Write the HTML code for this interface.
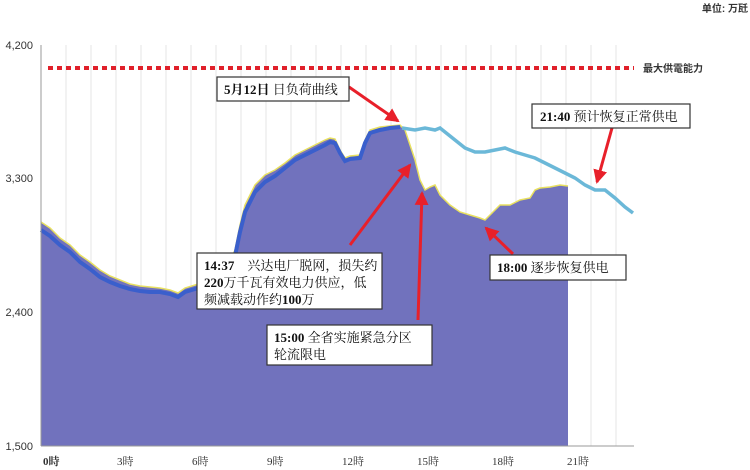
<!DOCTYPE html>
<html><head><meta charset="utf-8"><style>
body{margin:0;background:#fff;}
svg{display:block;font-family:"Liberation Sans","Noto Sans CJK SC",sans-serif;}
.cn{font-family:"Liberation Serif","Noto Serif CJK SC",serif;}
</style></head><body>
<svg width="750" height="470" viewBox="0 0 750 470">
<defs><marker id="ah" markerWidth="8" markerHeight="8" refX="6" refY="4" orient="auto" markerUnits="userSpaceOnUse"><path d="M0,0 L8,4 L0,8 Z" fill="#e8202a"/></marker>
<marker id="ah2" markerWidth="14" markerHeight="14" refX="12" refY="7" orient="auto" markerUnits="userSpaceOnUse"><path d="M0,0 L14,7 L0,14 Z" fill="#e8202a"/></marker></defs>
<text x="748" y="12" font-size="10" font-weight="bold" text-anchor="end" fill="#333">单位: 万瓩</text>
<!-- grid -->
<g stroke="#e6e6e6" stroke-width="1">
<line x1="66" y1="45" x2="66" y2="446"/><line x1="91" y1="45" x2="91" y2="446"/><line x1="116" y1="45" x2="116" y2="446"/><line x1="141" y1="45" x2="141" y2="446"/><line x1="166" y1="45" x2="166" y2="446"/><line x1="191" y1="45" x2="191" y2="446"/><line x1="216" y1="45" x2="216" y2="446"/><line x1="241" y1="45" x2="241" y2="446"/><line x1="266" y1="45" x2="266" y2="446"/><line x1="291" y1="45" x2="291" y2="446"/><line x1="316" y1="45" x2="316" y2="446"/><line x1="341" y1="45" x2="341" y2="446"/><line x1="366" y1="45" x2="366" y2="446"/><line x1="391" y1="45" x2="391" y2="446"/><line x1="416" y1="45" x2="416" y2="446"/><line x1="441" y1="45" x2="441" y2="446"/><line x1="466" y1="45" x2="466" y2="446"/><line x1="491" y1="45" x2="491" y2="446"/><line x1="516" y1="45" x2="516" y2="446"/><line x1="541" y1="45" x2="541" y2="446"/><line x1="566" y1="45" x2="566" y2="446"/><line x1="591" y1="45" x2="591" y2="446"/><line x1="616" y1="45" x2="616" y2="446"/>
</g>
<!-- fill -->
<path d="M41,222 L50,228 L60,238 L70,245 L80,255 L90,262 L100,270 L110,276 L120,280 L130,284 L140,286 L150,287 L160,288 L170,290 L178,293 L185,288 L195,285 L205,282 L215,280 L225,272 L235,250 L240,225 L245,205 L255,185 L265,175 L275,170 L285,163 L295,155 L305,150 L315,145 L325,140 L330,138 L335,139 L340,150 L345,158 L350,156 L360,155 L365,140 L370,130 L380,127 L390,126 L400,125 L405,130 L410,145 L415,160 L420,180 L425,190 L430,187 L435,185 L440,195 L450,205 L460,212 L470,215 L480,218 L485,220 L490,215 L495,210 L500,205 L510,205 L520,200 L530,198 L535,190 L540,188 L550,187 L560,185 L568,186 L568,446 L41,446 Z" fill="#7172bd" stroke="none"/>
<path d="M41,222 L50,228 L60,238 L70,245 L80,255 L90,262 L100,270 L110,276 L120,280 L130,284 L140,286 L150,287 L160,288 L170,290 L178,293 L185,288 L195,285 L205,282 L215,280 L225,272 L235,250 L240,225 L245,205 L255,185 L265,175 L275,170 L285,163 L295,155 L305,150 L315,145 L325,140 L330,138 L335,139 L340,150 L345,158 L350,156 L360,155 L365,140 L370,130 L380,127 L390,126 L400,125 L405,130 L410,145 L415,160 L420,180 L425,190 L430,187 L435,185 L440,195 L450,205 L460,212 L470,215 L480,218 L485,220 L490,215 L495,210 L500,205 L510,205 L520,200 L530,198 L535,190 L540,188 L550,187 L560,185 L568,186" fill="none" stroke="#e8e060" stroke-width="1.5"/>
<path d="M41,230 L50,236 L60,245 L70,252 L80,262 L90,269 L100,277 L110,282 L120,286 L130,289 L140,291 L150,292 L160,292 L170,294 L178,297 L185,292 L195,289 L205,286 L215,283 L225,276 L235,256 L240,232 L245,212 L255,192 L265,182 L275,176 L285,168 L295,160 L305,155 L315,150 L325,145 L330,142 L335,143 L340,153 L345,161 L350,159 L360,158 L365,143 L370,133 L380,130 L390,128 L400,127" fill="none" stroke="#3a5fcc" stroke-width="4"/>
<path d="M402,128 L415,130 L425,128 L435,130 L440,128 L445,132 L455,140 L465,148 L475,152 L485,152 L495,150 L505,148 L515,152 L525,155 L535,158 L545,163 L555,168 L565,173 L575,178 L585,185 L595,190 L605,190 L615,198 L625,207 L633,213" fill="none" stroke="#6bb8d8" stroke-width="3.5"/>
<!-- axes -->
<line x1="41" y1="45" x2="41" y2="446" stroke="#999"/>
<line x1="41" y1="446" x2="634" y2="446" stroke="#999"/>
<g font-size="11" fill="#333" text-anchor="end"><text x="33" y="49">4,200</text><text x="33" y="182">3,300</text><text x="33" y="316">2,400</text><text x="33" y="450">1,500</text></g>
<g font-size="11" fill="#333" class="cn"><text x="43" y="465" font-weight="bold">0時</text><text x="117" y="465">3時</text><text x="192" y="465">6時</text><text x="267" y="465">9時</text><text x="342" y="465">12時</text><text x="417" y="465">15時</text><text x="492" y="465">18時</text><text x="567" y="465">21時</text></g>
<line x1="48" y1="68" x2="634" y2="68" stroke="#e0202a" stroke-width="4" stroke-dasharray="5,4"/>
<text x="643" y="72" font-size="10" font-weight="bold" fill="#333">最大供電能力</text>
<!-- arrows -->
<g stroke="#e8202a" stroke-width="3" fill="none">
<line x1="349" y1="87" x2="398" y2="121" marker-end="url(#ah2)"/>
<line x1="612" y1="128" x2="597" y2="182" marker-end="url(#ah2)"/>
<line x1="350" y1="245" x2="410" y2="165" marker-end="url(#ah2)"/>
<line x1="418" y1="320" x2="422" y2="193" marker-end="url(#ah2)"/>
<line x1="513" y1="254" x2="486" y2="228" marker-end="url(#ah2)"/>
</g>
<!-- boxes -->
<g fill="#fff" stroke="#333" stroke-width="1.2">
<rect x="217" y="77" width="132" height="24"/>
<rect x="532" y="104" width="158" height="24"/>
<rect x="197" y="253" width="185" height="56"/>
<rect x="267" y="325" width="165" height="40"/>
<rect x="490" y="255" width="136" height="25"/>
</g>
<g class="cn" font-size="13" fill="#111">
<text x="224" y="94"><tspan font-weight="bold">5月12日</tspan> 日负荷曲线</text>
<text x="540" y="121"><tspan font-weight="bold">21:40</tspan> 预计恢复正常供电</text>
<text x="204" y="270"><tspan font-weight="bold">14:37</tspan>　兴达电厂脱网，损失约</text>
<text x="204" y="287"><tspan font-weight="bold">220</tspan>万千瓦有效电力供应，低</text>
<text x="204" y="304">频减载动作约<tspan font-weight="bold">100</tspan>万</text>
<text x="274" y="342"><tspan font-weight="bold">15:00</tspan> 全省实施紧急分区</text>
<text x="274" y="359">轮流限电</text>
<text x="497" y="272"><tspan font-weight="bold">18:00</tspan> 逐步恢复供电</text>
</g>
</svg>
</body></html>
